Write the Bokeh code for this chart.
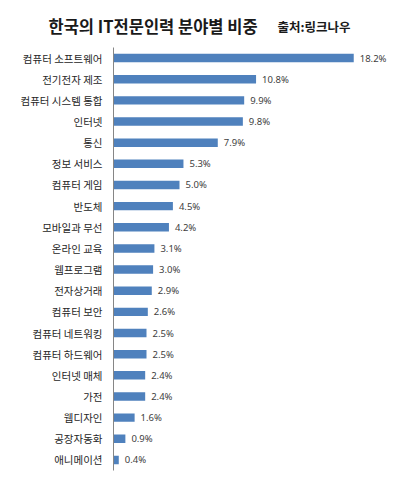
from bokeh.plotting import figure
from bokeh.models import ColumnDataSource, Range1d
from bokeh.core.properties import value
from bokeh.embed import file_html
from bokeh.resources import INLINE

categories = ["컴퓨터 소프트웨어", "전기전자 제조", "컴퓨터 시스템 통합", "인터넷", "통신",
              "정보 서비스", "컴퓨터 게임", "반도체", "모바일과 무선", "온라인 교육",
              "웹프로그램", "전자상거래", "컴퓨터 보안", "컴퓨터 네트워킹", "컴퓨터 하드웨어",
              "인터넷 매체", "가전", "웹디자인", "공장자동화", "애니메이션"]
values = [18.2, 10.8, 9.9, 9.8, 7.9, 5.3, 5.0, 4.5, 4.2, 3.1,
          3.0, 2.9, 2.6, 2.5, 2.5, 2.4, 2.4, 1.6, 0.9, 0.4]
value_labels = [f"{v:.1f}%" for v in values]
title_text = "한국의 IT전문인력 분야별 비중"
source_text = "출처:링크나우"

KFONT = "Noto Sans CJK KR"
NFONT = "Noto Sans"

# layout (pixels)
W, H = 387, 472
AXIS_X = 113          # pixel x of the value axis (0)
PX_PER_UNIT = 13.2
TOP, BOTTOM = 47, 470  # pixel span of the category rows
n = len(categories)
ROW = (BOTTOM - TOP) / n

x_start = -AXIS_X / PX_PER_UNIT
x_end = (W - AXIS_X) / PX_PER_UNIT
y_top = -0.5 - TOP / ROW
y_bottom = -0.5 + (H - TOP) / ROW

def px_to_x(px):
    return (px - AXIS_X) / PX_PER_UNIT

def py_to_y(py):
    return -0.5 + (py - TOP) / ROW

src = ColumnDataSource(dict(cat=categories, pos=list(range(n)), val=values, lab=value_labels))

p = figure(width=W, height=H, output_backend="svg", toolbar_location=None,
           x_range=Range1d(x_start, x_end), y_range=Range1d(y_bottom, y_top),
           x_axis_location=None, y_axis_location=None,
           min_border=0, min_border_left=0, min_border_right=0,
           min_border_top=0, min_border_bottom=0)
p.xgrid.visible = False
p.ygrid.visible = False
p.outline_line_color = None

# bars
p.hbar(y="pos", right="val", left=0, height=0.4, source=src,
       fill_color="#4F81BD", line_color=None)

# value axis line
p.segment(x0=[0], y0=[-0.5], x1=[0], y1=[n - 0.5], line_color="#868686", line_width=1)

# category labels
p.text(x=0, y="pos", text="cat", source=src, x_offset=-11,
       text_align="right", text_baseline="middle",
       text_font=value(KFONT), text_font_size="10.5px", text_color="#262626")

# value labels
p.text(x="val", y="pos", text="lab", source=src, x_offset=6,
       text_align="left", text_baseline="middle",
       text_font=value(NFONT), text_font_size="9.5px", text_color="#404040")

# title and source
p.text(x=[px_to_x(48)], y=[py_to_y(25)], text=[title_text],
       text_align="left", text_baseline="middle",
       text_font=value(KFONT), text_font_size="16.5px", text_font_style="bold",
       text_color="#1a1a1a")
p.text(x=[px_to_x(277)], y=[py_to_y(26)], text=[source_text],
       text_align="left", text_baseline="middle",
       text_font=value(KFONT), text_font_size="12.5px", text_font_style="bold",
       text_color="#1a1a1a")

open("out.html", "w").write(file_html(p, INLINE))
